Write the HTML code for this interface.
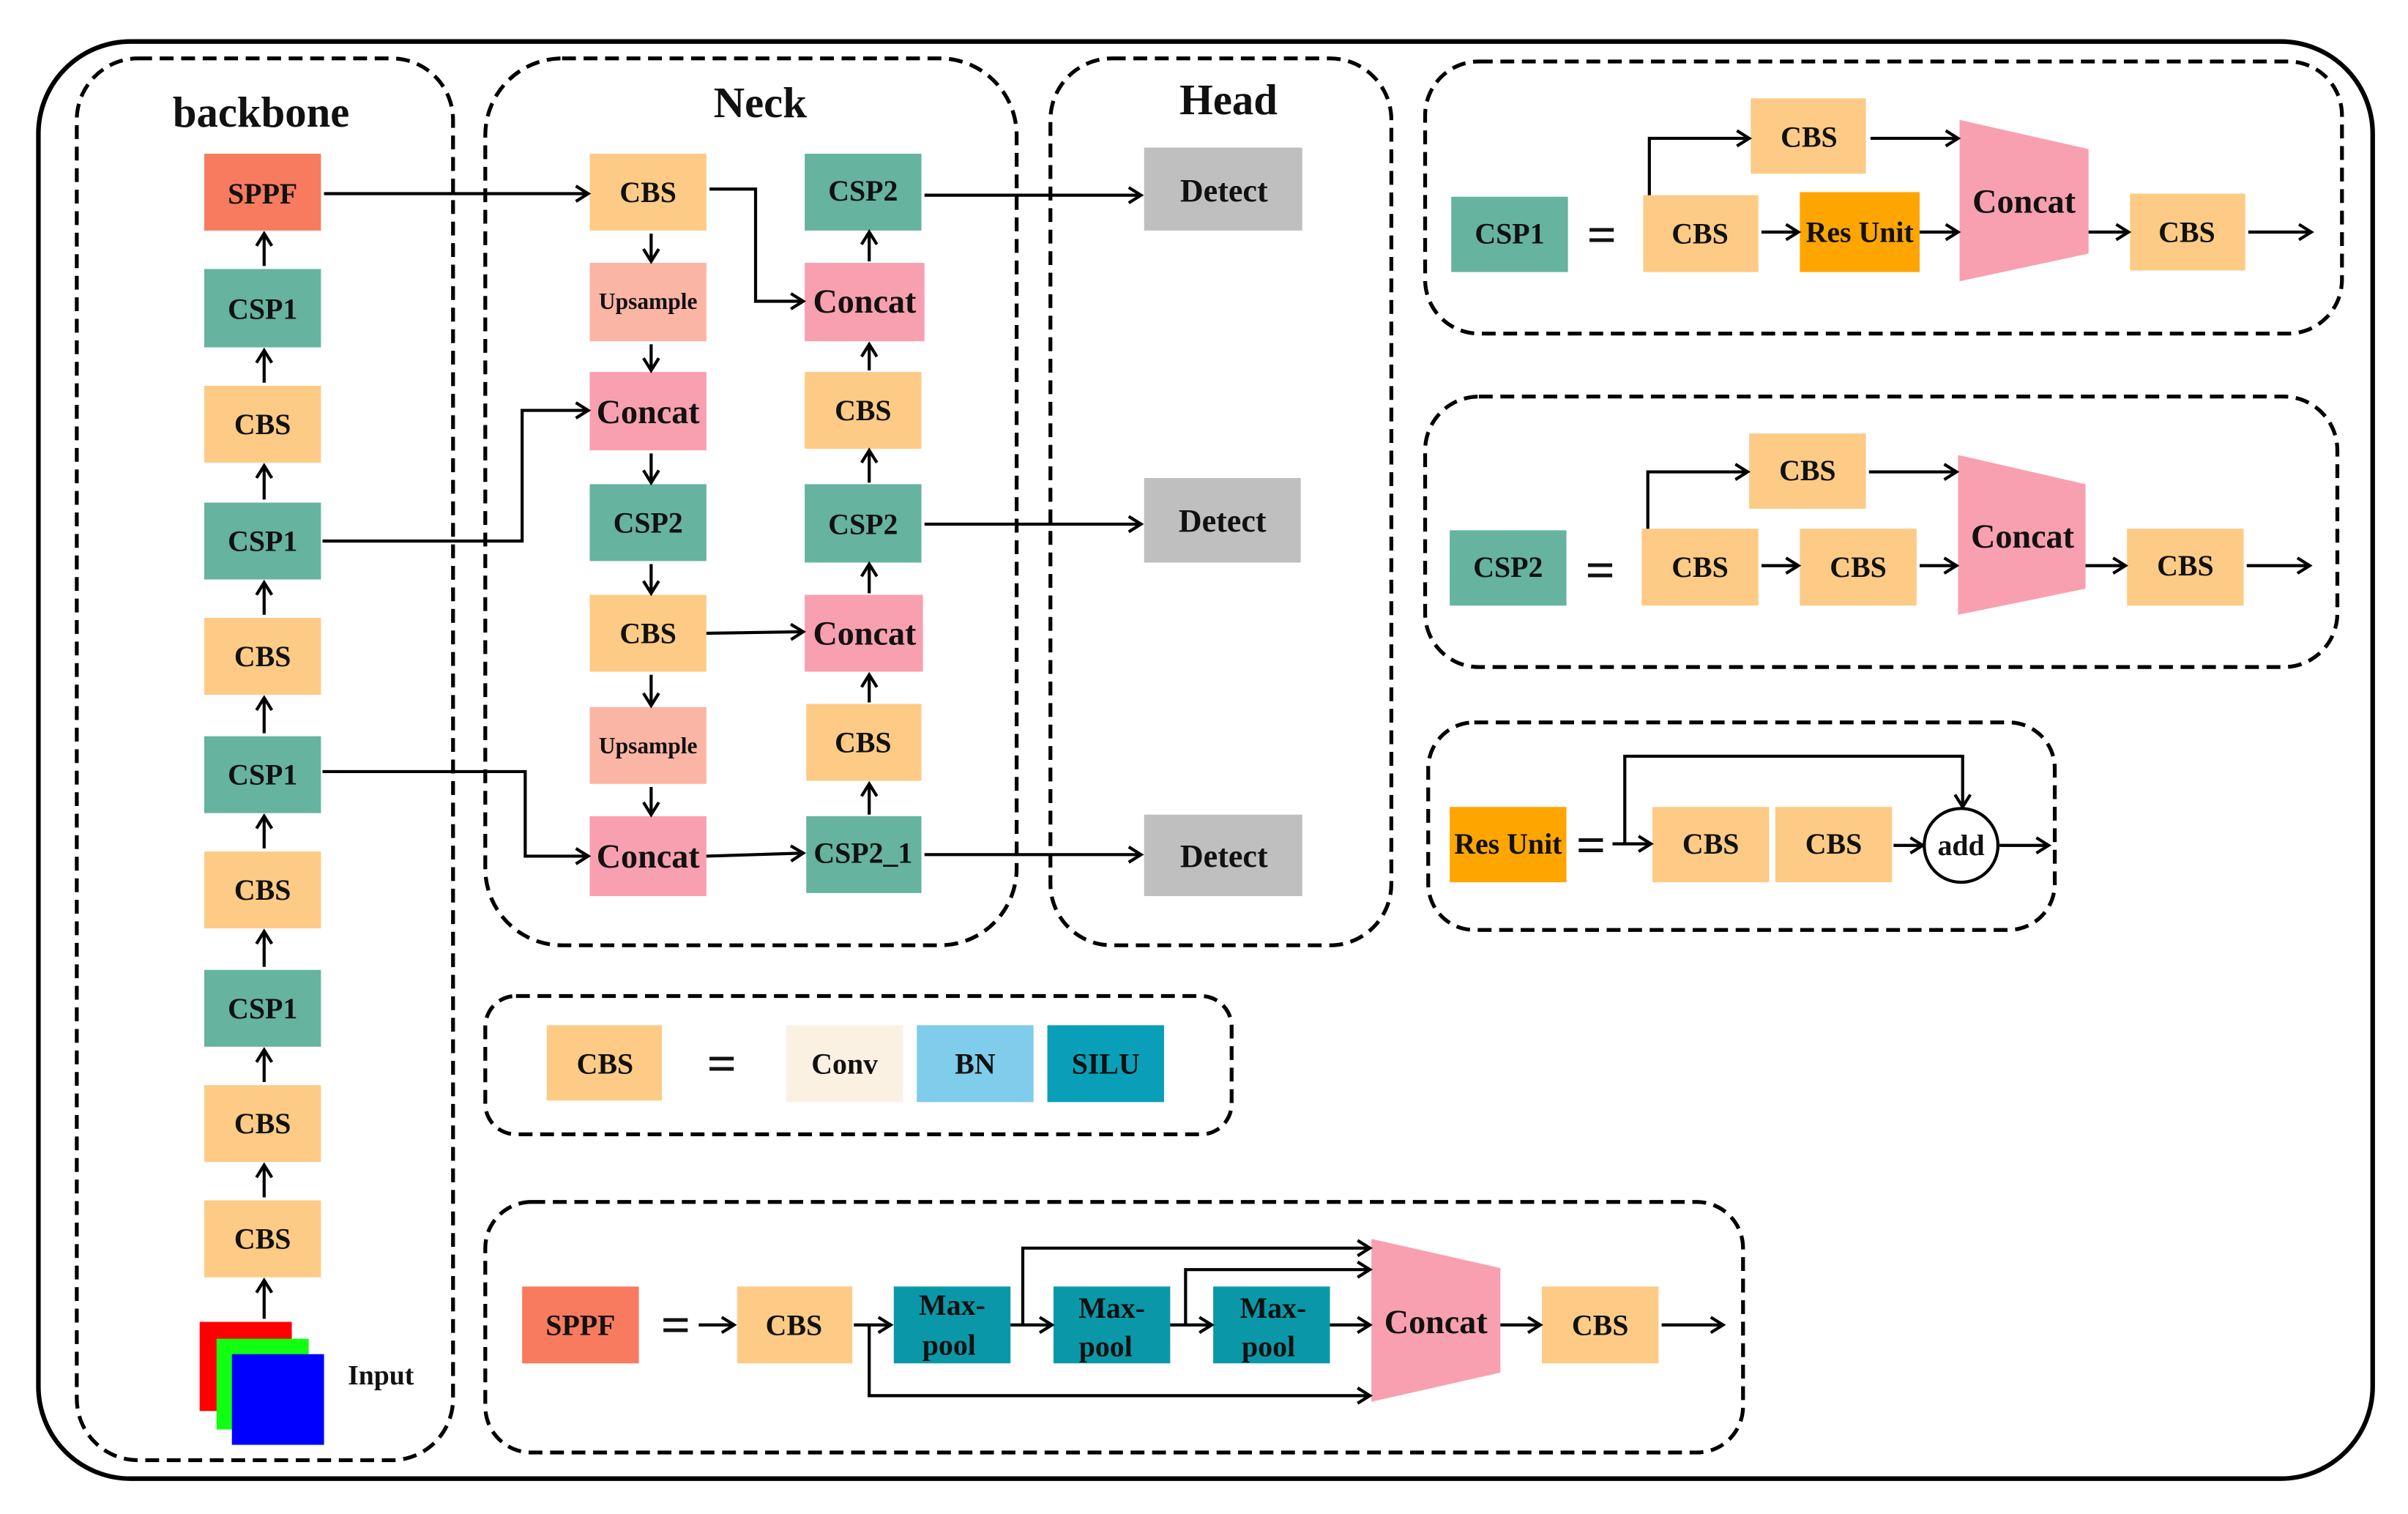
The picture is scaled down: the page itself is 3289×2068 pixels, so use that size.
<!DOCTYPE html>
<html><head><meta charset="utf-8"><style>
html,body{margin:0;padding:0;background:#fff}
svg{display:block}
text{font-family:"Liberation Serif",serif;font-weight:bold;fill:#111;text-anchor:middle;dominant-baseline:central}
</style></head><body>
<svg width="3289" height="2068" viewBox="0 0 1568 985" preserveAspectRatio="none" xmlns="http://www.w3.org/2000/svg">
<defs>
<marker id="a" markerWidth="12" markerHeight="12" refX="10" refY="6" orient="auto" markerUnits="userSpaceOnUse">
<path d="M2,1 L10,6 L2,11" fill="none" stroke="#000" stroke-width="2"/></marker>
</defs>
<rect x="0" y="0" width="1568" height="985" fill="#fff"/>
<rect x="25" y="27" width="1520" height="935" rx="60" fill="none" stroke="#000" stroke-width="3"/>
<g fill="none" stroke="#000" stroke-width="2.5" stroke-dasharray="9,5">
<rect x="50" y="38" width="245" height="912" rx="40"/>
<rect x="316" y="38" width="346" height="577" rx="50"/>
<rect x="684" y="38" width="222" height="577" rx="40"/>
<rect x="928" y="40" width="597" height="177" rx="35"/>
<rect x="928" y="258" width="594" height="176" rx="35"/>
<rect x="930" y="470" width="408" height="135" rx="30"/>
<rect x="316" y="648" width="486" height="90" rx="20"/>
<rect x="316" y="782" width="819" height="163" rx="30"/>
</g>
<text x="170" y="73" font-size="28">backbone</text>
<text x="495" y="67" font-size="28">Neck</text>
<text x="800" y="65" font-size="28">Head</text>

<g font-size="19">
<rect x="133" y="100" width="76" height="50" fill="#F97B5F"/><text x="171" y="126">SPPF</text>
<rect x="133" y="175" width="76" height="51" fill="#66B39F"/><text x="171" y="201">CSP1</text>
<rect x="133" y="251" width="76" height="50" fill="#FDCB85"/><text x="171" y="276">CBS</text>
<rect x="133" y="327" width="76" height="50" fill="#66B39F"/><text x="171" y="352">CSP1</text>
<rect x="133" y="402" width="76" height="50" fill="#FDCB85"/><text x="171" y="427">CBS</text>
<rect x="133" y="479" width="76" height="50" fill="#66B39F"/><text x="171" y="504">CSP1</text>
<rect x="133" y="554" width="76" height="50" fill="#FDCB85"/><text x="171" y="579">CBS</text>
<rect x="133" y="631" width="76" height="50" fill="#66B39F"/><text x="171" y="656">CSP1</text>
<rect x="133" y="706" width="76" height="50" fill="#FDCB85"/><text x="171" y="731">CBS</text>
<rect x="133" y="781" width="76" height="50" fill="#FDCB85"/><text x="171" y="806">CBS</text>
<rect x="130" y="860" width="60" height="58" fill="#f00"/>
<rect x="141" y="871" width="60" height="59" fill="#1f1"/>
<rect x="151" y="881" width="60" height="59" fill="#00f"/>
<text x="248" y="895" font-size="18">Input</text>

<rect x="384" y="100" width="76" height="50" fill="#FDCB85"/><text x="422" y="125">CBS</text>
<rect x="384" y="171" width="76" height="51" fill="#FBB5A5"/><text x="422" y="196" font-size="15">Upsample</text>
<rect x="384" y="242" width="76" height="51" fill="#F8A0AF"/><text x="422" y="268" font-size="22">Concat</text>
<rect x="384" y="315" width="76" height="50" fill="#66B39F"/><text x="422" y="340">CSP2</text>
<rect x="384" y="387" width="76" height="50" fill="#FDCB85"/><text x="422" y="412">CBS</text>
<rect x="384" y="460" width="76" height="50" fill="#FBB5A5"/><text x="422" y="485" font-size="15">Upsample</text>
<rect x="384" y="531" width="76" height="52" fill="#F8A0AF"/><text x="422" y="557" font-size="22">Concat</text>
<rect x="524" y="100" width="76" height="50" fill="#66B39F"/><text x="562" y="124">CSP2</text>
<rect x="524" y="171" width="78" height="51" fill="#F8A0AF"/><text x="563" y="196" font-size="22">Concat</text>
<rect x="524" y="242" width="76" height="50" fill="#FDCB85"/><text x="562" y="267">CBS</text>
<rect x="524" y="315" width="76" height="51" fill="#66B39F"/><text x="562" y="341">CSP2</text>
<rect x="524" y="387" width="77" height="50" fill="#F8A0AF"/><text x="563" y="412" font-size="22">Concat</text>
<rect x="525" y="458" width="75" height="50" fill="#FDCB85"/><text x="562" y="483">CBS</text>
<rect x="525" y="531" width="75" height="50" fill="#66B39F"/><text x="562" y="555">CSP2_1</text>
<rect x="745" y="96" width="103" height="54" fill="#BFBFBF"/><text x="797" y="124" font-size="21">Detect</text>
<rect x="745" y="311" width="102" height="55" fill="#BFBFBF"/><text x="796" y="339" font-size="21">Detect</text>
<rect x="745" y="530" width="103" height="53" fill="#BFBFBF"/><text x="797" y="557" font-size="21">Detect</text>

<rect x="945" y="128" width="76" height="49" fill="#66B39F"/><text x="983" y="152">CSP1</text>
<text x="1043" y="153" font-size="34">=</text>
<rect x="1070" y="127" width="75" height="50" fill="#FDCB85"/><text x="1107" y="152">CBS</text>
<rect x="1172" y="125" width="78" height="52" fill="#FFA500"/><text x="1211" y="151">Res Unit</text>
<rect x="1140" y="64" width="75" height="49" fill="#FDCB85"/><text x="1178" y="89">CBS</text>
<polygon points="1276,78 1360,97 1360,165 1276,183" fill="#F8A0AF"/><text x="1318" y="131" font-size="22">Concat</text>
<rect x="1387" y="126" width="75" height="50" fill="#FDCB85"/><text x="1424" y="151">CBS</text>
<rect x="944" y="345" width="76" height="49" fill="#66B39F"/><text x="982" y="369">CSP2</text>
<text x="1042" y="371" font-size="34">=</text>
<rect x="1069" y="344" width="76" height="50" fill="#FDCB85"/><text x="1107" y="369">CBS</text>
<rect x="1172" y="344" width="76" height="50" fill="#FDCB85"/><text x="1210" y="369">CBS</text>
<rect x="1139" y="282" width="76" height="49" fill="#FDCB85"/><text x="1177" y="306">CBS</text>
<polygon points="1275,296 1358,315 1358,383 1275,400" fill="#F8A0AF"/><text x="1317" y="349" font-size="22">Concat</text>
<rect x="1385" y="344" width="76" height="50" fill="#FDCB85"/><text x="1423" y="368">CBS</text>
<rect x="944" y="525" width="76" height="49" fill="#FFA500"/><text x="982" y="549">Res Unit</text>
<text x="1036" y="550" font-size="34">=</text>
<rect x="1076" y="525" width="76" height="49" fill="#FDCB85"/><text x="1114" y="549">CBS</text>
<rect x="1156" y="525" width="76" height="49" fill="#FDCB85"/><text x="1194" y="549">CBS</text>
<circle cx="1277" cy="550" r="24" fill="#fff" stroke="#000" stroke-width="2"/><text x="1277" y="550" font-size="19">add</text>
<rect x="356" y="667" width="75" height="49" fill="#FDCB85"/><text x="394" y="692">CBS</text>
<text x="470" y="692" font-size="34">=</text>
<rect x="512" y="667" width="76" height="50" fill="#FBF1E3"/><text x="550" y="692">Conv</text>
<rect x="597" y="667" width="76" height="50" fill="#7FCCEB"/><text x="635" y="692">BN</text>
<rect x="682" y="667" width="76" height="50" fill="#0A9FB8"/><text x="720" y="692">SILU</text>
<rect x="340" y="837" width="76" height="50" fill="#F97B5F"/><text x="378" y="862">SPPF</text>
<text x="440" y="862" font-size="34">=</text>
<rect x="480" y="837" width="75" height="50" fill="#FDCB85"/><text x="517" y="862">CBS</text>
<rect x="582" y="837" width="76" height="50" fill="#0A98A8"/><text x="620" y="849">Max-</text><text x="618" y="875">pool</text>
<rect x="686" y="837" width="76" height="50" fill="#0A98A8"/><text x="724" y="851">Max-</text><text x="720" y="876">pool</text>
<rect x="790" y="837" width="76" height="50" fill="#0A98A8"/><text x="829" y="851">Max-</text><text x="826" y="876">pool</text>
<polygon points="893,806 977,825 977,893 893,912" fill="#F8A0AF"/><text x="935" y="860" font-size="22">Concat</text>
<rect x="1004" y="837" width="76" height="50" fill="#FDCB85"/><text x="1042" y="862">CBS</text>
</g>

<g fill="none" stroke="#000" stroke-width="2" marker-end="url(#a)">
<line x1="172" y1="173" x2="172" y2="152"/>
<line x1="172" y1="249" x2="172" y2="228"/>
<line x1="172" y1="325" x2="172" y2="303"/>
<line x1="172" y1="400" x2="172" y2="379"/>
<line x1="172" y1="477" x2="172" y2="454"/>
<line x1="172" y1="552" x2="172" y2="531"/>
<line x1="172" y1="629" x2="172" y2="606"/>
<line x1="172" y1="704" x2="172" y2="683"/>
<line x1="172" y1="779" x2="172" y2="758"/>
<line x1="172" y1="858" x2="172" y2="833"/>
<line x1="424" y1="152" x2="424" y2="170"/>
<line x1="424" y1="224" x2="424" y2="241"/>
<line x1="424" y1="295" x2="424" y2="314"/>
<line x1="424" y1="367" x2="424" y2="386"/>
<line x1="424" y1="439" x2="424" y2="459"/>
<line x1="424" y1="512" x2="424" y2="530"/>
<line x1="566" y1="170" x2="566" y2="151"/>
<line x1="566" y1="241" x2="566" y2="224"/>
<line x1="566" y1="314" x2="566" y2="293"/>
<line x1="566" y1="386" x2="566" y2="367"/>
<line x1="566" y1="457" x2="566" y2="439"/>
<line x1="566" y1="530" x2="566" y2="510"/>
<line x1="211" y1="126" x2="383" y2="126"/>
<polyline points="462,123 492,123 492,196 523,196"/>
<polyline points="210,352 340,352 340,267 383,267"/>
<line x1="460" y1="412" x2="523" y2="411"/>
<polyline points="210,502 342,502 342,557 383,557"/>
<line x1="460" y1="557" x2="523" y2="555"/>
<line x1="602" y1="127" x2="743" y2="127"/>
<line x1="602" y1="341" x2="743" y2="341"/>
<line x1="602" y1="556" x2="743" y2="556"/>
<polyline points="1074,127 1074,90 1139,90"/>
<line x1="1218" y1="90" x2="1275" y2="90"/>
<line x1="1147" y1="151" x2="1171" y2="151"/>
<line x1="1250" y1="151" x2="1275" y2="151"/>
<line x1="1360" y1="151" x2="1386" y2="151"/>
<line x1="1464" y1="151" x2="1505" y2="151"/>
<polyline points="1073,344 1073,307 1138,307"/>
<line x1="1217" y1="307" x2="1274" y2="307"/>
<line x1="1147" y1="368" x2="1171" y2="368"/>
<line x1="1250" y1="368" x2="1274" y2="368"/>
<line x1="1358" y1="368" x2="1384" y2="368"/>
<line x1="1463" y1="368" x2="1504" y2="368"/>
<line x1="1050" y1="549" x2="1075" y2="549"/>
<polyline points="1058,549 1058,492 1278,492 1278,525"/>
<line x1="1233" y1="550" x2="1252" y2="550"/>
<line x1="1302" y1="550" x2="1334" y2="550"/>
<line x1="455" y1="862" x2="478" y2="862"/>
<line x1="556" y1="862" x2="580" y2="862"/>
<line x1="658" y1="862" x2="685" y2="862"/>
<line x1="762" y1="862" x2="789" y2="862"/>
<line x1="866" y1="862" x2="892" y2="862"/>
<line x1="977" y1="862" x2="1003" y2="862"/>
<line x1="1082" y1="862" x2="1122" y2="862"/>
<polyline points="566,862 566,908 892,908"/>
<polyline points="666,862 666,812 892,812"/>
<polyline points="772,862 772,826 892,826"/>
</g>
</svg>
</body></html>
